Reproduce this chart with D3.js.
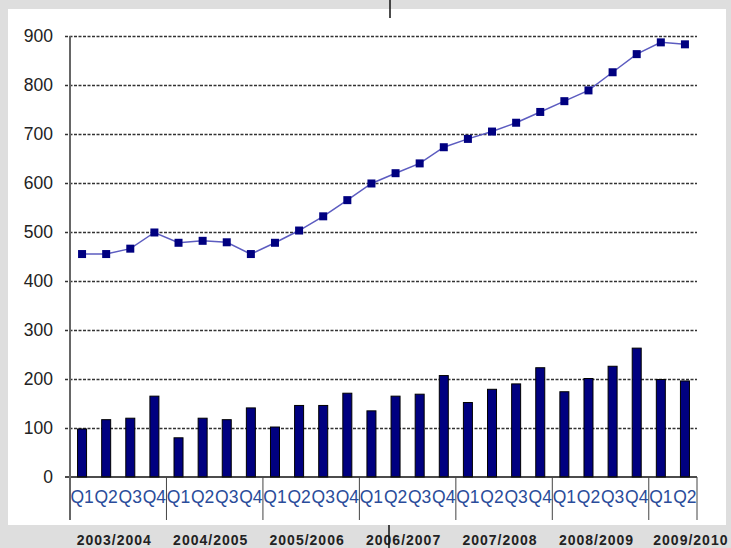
<!DOCTYPE html>
<html>
<head>
<meta charset="utf-8">
<script src="https://cdn.jsdelivr.net/npm/d3@7"></script>
<style>
body { margin: 0; background: #dedede; }
svg { display: block; }
</style>
</head>
<body>
<script>
var width = 731, height = 548;

var years = ["2003/2004", "2004/2005", "2005/2006", "2006/2007", "2007/2008", "2008/2009", "2009/2010"];
var quarters = ["Q1", "Q2", "Q3", "Q4", "Q1", "Q2", "Q3", "Q4", "Q1", "Q2", "Q3", "Q4",
	"Q1", "Q2", "Q3", "Q4", "Q1", "Q2", "Q3", "Q4", "Q1", "Q2", "Q3", "Q4", "Q1", "Q2"];
var lineValues = [455, 455, 466, 499, 478, 482, 479, 455, 478, 503, 532, 565,
	599, 620, 640, 673, 690, 705, 723, 745, 767, 789, 826, 863, 887, 883];
var barValues = [98, 117, 120, 165, 80, 120, 117, 141, 102, 146, 146, 171,
	135, 165, 169, 207, 152, 179, 190, 223, 174, 201, 226, 263, 199, 196];
var yTicks = [0, 100, 200, 300, 400, 500, 600, 700, 800, 900];

var svg = d3.select("body")
	.append("svg")
		.attr("width", width)
		.attr("height", height);

// white panel
svg.append("rect")
		.attr("x", 8)
		.attr("y", 9)
		.attr("width", 718)
		.attr("height", 516)
		.attr("fill", "white");

var plotLeft = 70, plotRight = 697, plotTop = 36, zeroY = 477;

var x = d3.scaleBand()
		.domain(d3.range(quarters.length))
		.range([plotLeft, plotRight]);

var y = d3.scaleLinear()
		.domain([0, 900])
		.range([zeroY, plotTop]);

// grid lines
svg.append("g")
	.selectAll("line")
		.data(yTicks.filter(function(d) { return d > 0; }))
	.enter()
	.append("line")
		.attr("x1", plotLeft - 5)
		.attr("x2", plotRight)
		.attr("y1", function(d) { return Math.round(y(d)) + 0.5; })
		.attr("y2", function(d) { return Math.round(y(d)) + 0.5; })
		.attr("stroke", "#333")
		.attr("stroke-width", 1.3)
		.attr("stroke-dasharray", "3,1.5");

// y labels
svg.append("g")
	.selectAll("text")
		.data(yTicks)
	.enter()
	.append("text")
		.attr("x", 53)
		.attr("y", function(d) { return y(d); })
		.attr("dy", "0.36em")
		.attr("text-anchor", "end")
		.attr("font-family", "Arial, 'Liberation Sans', sans-serif")
		.attr("font-size", "17.5px")
		.attr("fill", "#222")
		.text(function(d) { return d; });

// bars
svg.append("g")
	.selectAll("rect")
		.data(barValues)
	.enter()
	.append("rect")
		.attr("x", function(d, i) { return x(i) + x.bandwidth() / 2 - 4.5; })
		.attr("y", function(d) { return y(d); })
		.attr("width", 9)
		.attr("height", function(d) { return zeroY - y(d); })
		.attr("fill", "#000080")
		.attr("stroke", "#000")
		.attr("stroke-width", 1);

// line series
svg.append("path")
		.datum(lineValues)
		.attr("fill", "none")
		.attr("stroke", "#5c5cc0")
		.attr("stroke-width", 1.5)
		.attr("d", d3.line()
			.x(function(d, i) { return x(i) + x.bandwidth() / 2; })
			.y(function(d) { return y(d); }));

svg.append("g")
	.selectAll("rect")
		.data(lineValues)
	.enter()
	.append("rect")
		.attr("x", function(d, i) { return x(i) + x.bandwidth() / 2 - 4; })
		.attr("y", function(d) { return y(d) - 4; })
		.attr("width", 8)
		.attr("height", 8)
		.attr("fill", "#000080");

// axes
svg.append("line")
		.attr("x1", plotLeft - 5)
		.attr("x2", plotRight)
		.attr("y1", zeroY)
		.attr("y2", zeroY)
		.attr("stroke", "#111")
		.attr("stroke-width", 1.5);

svg.append("line")
		.attr("x1", plotLeft)
		.attr("x2", plotLeft)
		.attr("y1", plotTop)
		.attr("y2", 520)
		.attr("stroke", "#666")
		.attr("stroke-width", 2);

// year separators
var seps = [];
for (var i = 4; i < quarters.length; i += 4) seps.push(i);
seps.push(quarters.length);
svg.append("g")
	.selectAll("line")
		.data(seps)
	.enter()
	.append("line")
		.attr("x1", function(d) { return x(d) === undefined ? plotRight : x(d); })
		.attr("x2", function(d) { return x(d) === undefined ? plotRight : x(d); })
		.attr("y1", zeroY)
		.attr("y2", 520)
		.attr("stroke", "#444")
		.attr("stroke-width", 1);

// quarter labels
svg.append("g")
	.selectAll("text")
		.data(quarters)
	.enter()
	.append("text")
		.attr("x", function(d, i) { return x(i) + x.bandwidth() / 2; })
		.attr("y", 503)
		.attr("text-anchor", "middle")
		.attr("font-family", "Arial, 'Liberation Sans', sans-serif")
		.attr("font-size", "17.5px")
		.attr("fill", "#2a4c9a")
		.text(function(d) { return d; });

// year labels
svg.append("g")
	.selectAll("text")
		.data(years)
	.enter()
	.append("text")
		.attr("x", function(d, i) {
			var first = i * 4, last = Math.min(first + 3, quarters.length - 1);
			var c = (x(first) + x(last) + x.bandwidth()) / 2 - 4;
			return Math.min(c + (i === years.length - 1 ? 22 : 0), width - 2 - 38);
		})
		.attr("y", 545)
		.attr("text-anchor", "middle")
		.attr("font-family", "Arial, 'Liberation Sans', sans-serif")
		.attr("font-weight", "bold")
		.attr("font-size", "14px")
		.attr("letter-spacing", "1px")
		.attr("fill", "#222")
		.text(function(d) { return d; });

// stray cursor marks
svg.append("line")
		.attr("x1", 390).attr("x2", 390)
		.attr("y1", 0).attr("y2", 18)
		.attr("stroke", "#111").attr("stroke-width", 1.5);
svg.append("line")
		.attr("x1", 389).attr("x2", 389)
		.attr("y1", 525).attr("y2", 548)
		.attr("stroke", "#111").attr("stroke-width", 1.5);
</script>
</body>
</html>
